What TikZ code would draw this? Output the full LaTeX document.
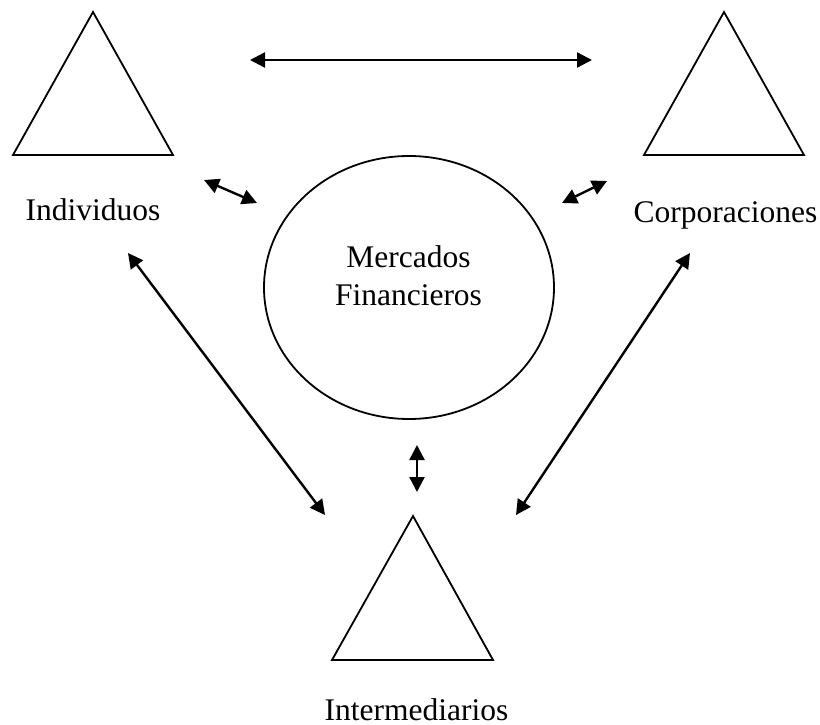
\documentclass[tikz,border=0pt]{standalone}
\usepackage{fontspec}
\setmainfont{Liberation Serif}
\usetikzlibrary{arrows.meta,shapes.geometric}
\begin{document}
\begin{tikzpicture}[x=1pt,y=-1pt,
  shapeline/.style={draw=black,line width=1.8pt,line join=miter},
  twoway/.style={line width=2.4pt,{Triangle[length=15pt,width=15pt]}-{Triangle[length=15pt,width=15pt]}},
  lbl/.style={font=\fontsize{31.5}{38}\selectfont,inner sep=0pt}]
\useasboundingbox (0,0) rectangle (820,725);
% triangles
\coordinate (iA) at (93,12);  \coordinate (iL) at (13,155);  \coordinate (iR) at (173,155);
\coordinate (cA) at (724,12); \coordinate (cL) at (644,155); \coordinate (cR) at (804,155);
\coordinate (tA) at (413,516); \coordinate (tL) at (332,660); \coordinate (tR) at (493,660);
\draw[shapeline] (iA) -- (iL) -- (iR) -- cycle;
\draw[shapeline] (cA) -- (cL) -- (cR) -- cycle;
\draw[shapeline] (tA) -- (tL) -- (tR) -- cycle;
% ellipse
\node[shapeline,ellipse,minimum width=290pt,minimum height=263pt,inner sep=0pt] (mf) at (409,287.5) {};
\node[lbl,align=center,anchor=north] (mftext) at (408.5,245.5) {Mercados\\Financieros};
% labels
\node[lbl,anchor=base] (ind) at (93,220) {Individuos};
\node[lbl,anchor=base] (corp) at (725.5,222) {Corporaciones};
\node[lbl,anchor=base] (inter) at (416.5,720) {Intermediarios};
% arrow end points
\coordinate (a1) at (250,60);  \coordinate (b1) at (592,60);
\coordinate (a2) at (204,180); \coordinate (b2) at (257,203);
\coordinate (a3) at (562,203); \coordinate (b3) at (607,181);
\coordinate (a4) at (128,253); \coordinate (b4) at (325,515);
\coordinate (a5) at (690,253); \coordinate (b5) at (516,515);
\coordinate (a6) at (417,445); \coordinate (b6) at (417,492);
\draw[twoway] (a1) -- (b1);
\draw[twoway] (a2) -- (b2);
\draw[twoway] (a3) -- (b3);
\draw[twoway] (a4) -- (b4);
\draw[twoway] (a5) -- (b5);
\draw[twoway] (a6) -- (b6);
\end{tikzpicture}
\end{document}
